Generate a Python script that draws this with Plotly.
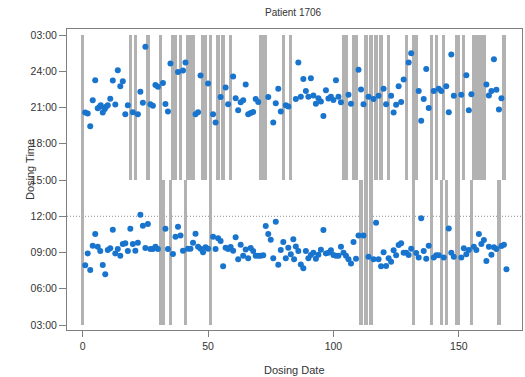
import plotly.graph_objects as go

# ---------------- data ----------------
# Evening doses (hours, values >24 mean after midnight)
evening_days = [1, 2, 3, 4, 5, 6, 6.8, 7.2, 8, 8.8, 9.3, 10, 11, 12, 13, 14, 15, 16, 17, 18,
                20, 22, 23, 24, 25, 27, 28, 29, 30, 32, 33, 34, 35, 38, 40, 41,
                45, 46, 47, 50, 52, 53, 55, 57, 58, 60, 61, 62, 63, 64, 65, 66, 67, 68, 69, 70,
                74, 76, 77, 78, 79, 81, 82, 85, 86, 87, 88, 89, 90, 91, 92, 93, 94, 95, 96, 97,
                98, 99, 100, 101, 102, 103, 106, 107, 110, 111, 112, 114, 116, 118, 120, 121,
                123, 124, 125, 126, 127, 128, 130, 131, 134, 135, 136, 137, 138, 140, 142, 143,
                145, 146, 147, 148, 151, 153, 154, 155, 161, 162, 163, 164, 165, 166, 167]
evening_hours = [20.58, 20.5, 19.45, 21.6, 23.25, 20.94, 21.07, 21.2, 20.6, 20.87, 21.06, 21.2,
                 21.72, 23.23, 21.25, 24.08, 22.76, 23.18, 20.45, 21.2,
                 20.62, 20.45, 22.31, 21.4, 26.04, 21.28, 21.14, 22.87, 22.73, 23.03, 21.3, 20.67,
                 24.64, 23.95, 24.06, 24.73,
                 20.44, 20.62, 23.65, 22.98, 20.45, 19.76, 21.87, 22.65, 21.28, 23.57, 21.77, 20.78,
                 21.44, 21.6, 22.9, 20.45, 20.54, 20.64, 21.71, 21.46,
                 21.87, 19.76, 21.35, 22.56, 20.67, 21.2, 21.08, 21.7, 24.73, 21.9, 23.36, 22.37,
                 21.9, 23.42, 22.0, 21.32, 21.77, 21.5, 20.29, 22.43,
                 21.74, 21.9, 21.63, 23.25, 21.9, 21.43, 22.06, 21.32, 24.13, 22.5, 21.27, 21.9,
                 21.7, 21.98, 22.56, 21.28,
                 21.98, 20.6, 21.24, 22.76, 21.46, 23.33, 24.73, 25.49, 22.37, 19.9, 21.7, 24.19,
                 20.96, 22.37, 22.56, 22.37,
                 22.76, 20.62, 25.38, 21.98, 22.06, 23.68, 20.78, 22.1, 22.9, 21.99, 22.37, 25.0,
                 22.47, 20.84, 21.77]

# Morning doses (hours)
morning_days = [1, 2, 3, 4, 5, 6, 7, 8, 9, 10, 11, 12, 13, 14, 15, 16, 17, 18, 19, 20, 21, 22,
                23, 24, 25, 26, 27, 28, 29, 30, 33, 34, 36, 37, 38, 39, 40, 42, 43, 44, 45, 46,
                47, 48, 49, 50, 52, 53, 54, 55, 56, 57, 58, 59, 60, 61, 62, 63, 64, 65, 66, 67,
                68, 69, 70, 71, 72, 73, 74, 75, 76, 77, 78, 79, 80, 81, 82, 83, 84, 84.3, 85, 86,
                87, 88, 89, 90, 91, 92, 93, 94, 95, 96, 97, 98, 99, 100, 101, 102, 103, 104, 105,
                106, 107, 108, 109, 110, 112, 114, 116, 117, 118, 119, 120, 121, 122, 123, 124,
                125, 126, 127, 128, 129, 130, 131, 133, 134, 135, 136, 137, 138, 140, 141, 142,
                144, 146, 147, 148, 151, 152, 153, 154, 156, 157, 158, 159, 160, 161, 162, 163,
                164, 165, 167, 168, 169]
morning_hours = [7.94, 8.93, 7.55, 9.57, 10.53, 9.48, 9.13, 7.97, 7.2, 9.21, 9.35, 10.89, 8.93,
                 9.29, 8.74, 9.71, 9.76, 9.13, 10.97, 9.71, 9.15, 9.81,
                 12.13, 11.22, 9.37, 11.36, 9.29, 9.29, 9.48, 9.29, 10.97, 9.29, 8.88, 10.31,
                 11.14, 10.42, 9.15, 9.32, 9.32, 9.81, 10.56, 9.48,
                 9.32, 9.02, 9.43, 9.32, 10.31, 9.29, 10.18, 9.95, 7.86, 9.4, 9.29, 9.46, 9.15,
                 10.26, 8.44, 9.65, 8.74, 9.26, 8.52, 9.37,
                 9.13, 8.74, 8.74, 8.74, 8.77, 11.2, 10.53, 10.06, 8.52, 11.55, 7.99, 9.21, 9.87,
                 8.52, 9.4, 8.85, 10.09, 8.44, 9.51, 9.13,
                 8.02, 7.69, 9.13, 8.52, 8.79, 8.99, 8.49, 8.82, 9.23, 10.86, 8.93, 8.99, 9.18,
                 8.79, 8.74, 8.74, 9.48, 8.99, 8.74,
                 8.44, 8.1, 9.87, 8.49, 10.42, 10.42, 8.65, 8.44, 11.47, 8.44, 7.86, 9.02, 7.88,
                 8.52, 8.24, 9.18,
                 8.77, 9.62, 9.76, 8.99, 8.99, 8.79, 9.32, 8.96, 8.6, 11.83, 9.13, 8.49, 9.57,
                 8.6, 8.77, 8.77,
                 8.6, 11.0, 8.99, 8.65, 8.6, 9.35, 8.85, 9.21, 9.48, 9.21, 10.53, 9.71, 10.04,
                 8.3, 9.48, 8.82,
                 9.43, 9.29, 9.54, 9.65, 7.61]

# Days with a missed evening dose (bar in the upper band) / missed morning dose (lower band)
missed_evening_days = [0, 19, 21, 26, 31, 36, 37, 39, 42, 43, 44, 48, 49, 51, 54, 56, 59,
                       71, 72, 73, 80, 83, 104, 105, 108, 109, 113, 115, 117, 119, 122,
                       129, 132, 133, 139, 141, 144, 149, 150, 152, 156, 157, 158, 159, 160, 168]
missed_morning_days = [0, 31, 32, 35, 41, 51, 111, 113, 115, 132, 139, 143, 145, 149, 150, 155, 166]

y_tick_vals = [3, 6, 9, 12, 15, 18, 21, 24, 27]
y_tick_text = ["03:00", "06:00", "09:00", "12:00", "15:00", "18:00", "21:00", "24:00", "03:00"]
x_tick_vals = [0, 50, 100, 150]

# ---------------- figure ----------------
BAR = "#B2B2B2"
PT = "#1874CD"
AX = "#7F7F7F"
FONT = "Liberation Sans, Arial, sans-serif"

fig = go.Figure()
fig.add_trace(go.Bar(x=missed_evening_days, y=[12] * len(missed_evening_days), base=15,
                     width=1.3, marker=dict(color=BAR, line=dict(width=0)), showlegend=False))
fig.add_trace(go.Bar(x=missed_morning_days, y=[12] * len(missed_morning_days), base=3,
                     width=1.3, marker=dict(color=BAR, line=dict(width=0)), showlegend=False))
fig.add_trace(go.Scatter(x=evening_days, y=evening_hours, mode="markers",
                         marker=dict(color=PT, size=6), showlegend=False))
fig.add_trace(go.Scatter(x=morning_days, y=morning_hours, mode="markers",
                         marker=dict(color=PT, size=6), showlegend=False))

fig.add_shape(type="line", xref="paper", x0=0, x1=1, yref="y", y0=12, y1=12,
              line=dict(color="#8C8C8C", width=1, dash="1px,2px"), layer="below")

fig.update_layout(
    width=525, height=377,
    margin=dict(l=67, r=3, t=29, b=47),
    plot_bgcolor="white", paper_bgcolor="white",
    barmode="overlay", bargap=0,
    font=dict(family=FONT, size=10.5, color="#333333"),
    showlegend=False,
)
fig.update_xaxes(range=[-6.26, 175.2], tickvals=x_tick_vals, ticks="outside", ticklen=6,
                 tickcolor=AX, showline=True, linecolor=AX, linewidth=1, mirror=True,
                 showgrid=False, zeroline=False, automargin=False,
                 tickfont=dict(size=10.5, color="#333333"))
fig.update_yaxes(range=[2.59, 27.5], tickvals=y_tick_vals, ticktext=y_tick_text,
                 ticks="outside", ticklen=7, tickcolor=AX, showline=True, linecolor=AX,
                 linewidth=1, mirror=True, showgrid=False, zeroline=False, automargin=False,
                 tickfont=dict(size=10.5, color="#333333"))

fig.add_annotation(text="Patient 1706", xref="paper", yref="paper", x=0.498, y=1 + 16.5 / 301,
                   xanchor="center", yanchor="middle", showarrow=False,
                   font=dict(size=10, color="#333333", family=FONT))
fig.add_annotation(text="Dosing Date", xref="paper", yref="paper", x=0.501, y=-40 / 301,
                   xanchor="center", yanchor="middle", showarrow=False,
                   font=dict(size=11, color="#333333", family=FONT))
fig.add_annotation(text="Dosing Time", xref="paper", yref="paper", x=-37 / 455, y=160 / 301,
                   xanchor="center", yanchor="middle", textangle=-90, showarrow=False,
                   font=dict(size=11, color="#333333", family=FONT))

# remove the browser's default 8px page margin so the figure sits at the window origin
fig.write_html("out.html", config={"displayModeBar": False},
               post_script="document.body.style.margin='0px';document.body.style.overflow='hidden';")
